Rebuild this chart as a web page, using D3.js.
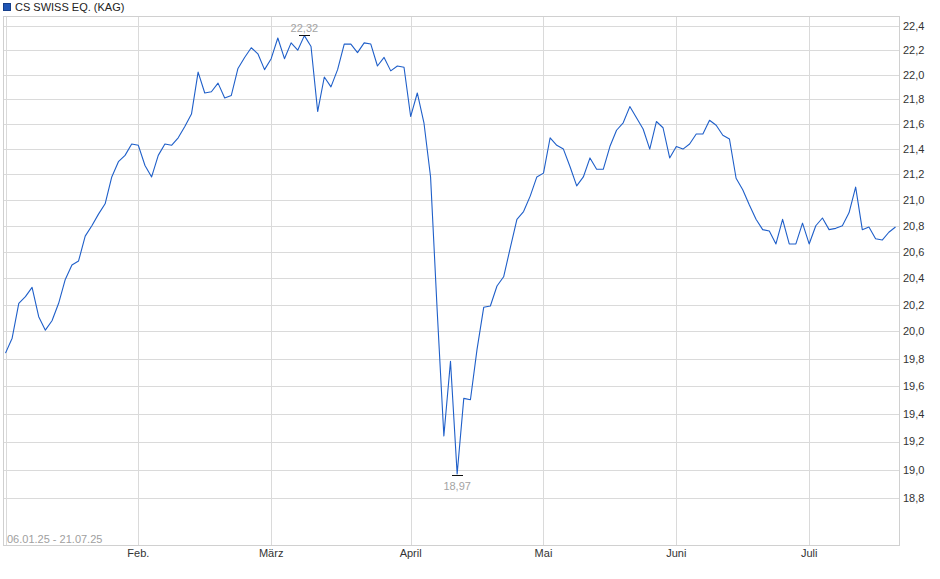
<!DOCTYPE html>
<html>
<head>
<meta charset="utf-8">
<script src="https://cdn.jsdelivr.net/npm/d3@7"></script>
<style>
  body { margin: 0; background: #fff; }
  svg { display: block; font-family: "Liberation Sans", Arial, sans-serif; }
</style>
</head>
<body>
<svg id="chart" width="940" height="579"></svg>
<script>
// fund prices, one per trading day, 06.01.25 - 21.07.25
const seriesName = "CS SWISS EQ. (KAG)";
const dateRange = "06.01.25 - 21.07.25";
const prices = [
  19.84, 19.95, 20.21, 20.26, 20.33, 20.11, 20.01, 20.08, 20.21, 20.39,
  20.50, 20.53, 20.72, 20.80, 20.89, 20.97, 21.18, 21.30, 21.35, 21.44,
  21.43, 21.27, 21.18, 21.35, 21.44, 21.43, 21.49, 21.58, 21.68, 22.02,
  21.85, 21.86, 21.93, 21.81, 21.83, 22.05, 22.14, 22.22, 22.17, 22.04,
  22.13, 22.30, 22.13, 22.26, 22.20, 22.32, 22.23, 21.70, 21.98, 21.90,
  22.04, 22.25, 22.25, 22.18, 22.26, 22.25, 22.07, 22.14, 22.03, 22.07,
  22.06, 21.66, 21.85, 21.61, 21.18, 20.15, 19.24, 19.78, 18.97, 19.51,
  19.50, 19.87, 20.18, 20.19, 20.34, 20.41, 20.63, 20.85, 20.91, 21.03,
  21.18, 21.21, 21.49, 21.43, 21.40, 21.26, 21.11, 21.18, 21.33, 21.24,
  21.24, 21.42, 21.55, 21.61, 21.74, 21.65, 21.56, 21.40, 21.62, 21.57,
  21.33, 21.42, 21.40, 21.44, 21.52, 21.52, 21.63, 21.59, 21.51, 21.48,
  21.17, 21.08, 20.96, 20.85, 20.77, 20.76, 20.66, 20.85, 20.66, 20.66,
  20.82, 20.66, 20.80, 20.86, 20.77, 20.78, 20.80, 20.90, 21.10, 20.77,
  20.79, 20.70, 20.69, 20.75, 20.79
];
// first trading day of each month (index into prices)
const monthIdx = [20, 40, 61, 81, 101, 121];
const monthLabels = ["Feb.", "März", "April", "Mai", "Juni", "Juli"];
const yTicks = [18.8, 19.0, 19.2, 19.4, 19.6, 19.8, 20.0, 20.2, 20.4, 20.6, 20.8, 21.0, 21.2, 21.4, 21.6, 21.8, 22.0, 22.2, 22.4];

const de = d3.formatLocale({decimal: ",", thousands: ".", grouping: [3], currency: ["", " €"]});
const fmt1 = de.format(".1f"), fmt2 = de.format(".2f");

const plotL = 3, plotR = 898.5, plotT = 16, plotB = 545;
const svg = d3.select("#chart");

const x = d3.scaleLinear().domain([0, prices.length - 1]).range([5.5, 895.5]);
const y = d3.scaleLog().domain([18.477, 22.483]).range([plotB, plotT]);

// grid
const grid = svg.append("g").attr("shape-rendering", "crispEdges");
grid.selectAll(".hg").data(yTicks).enter().append("line")
  .attr("x1", plotL).attr("x2", plotR)
  .attr("y1", d => Math.round(y(d)) + 0.5).attr("y2", d => Math.round(y(d)) + 0.5)
  .attr("stroke", "#dadada");
grid.selectAll(".vg").data([0].concat(monthIdx)).enter().append("line")
  .attr("x1", d => Math.round(x(d)) + 0.5).attr("x2", d => Math.round(x(d)) + 0.5)
  .attr("y1", plotT).attr("y2", plotB)
  .attr("stroke", "#dadada");
grid.append("rect")
  .attr("x", plotL + 0.5).attr("y", plotT + 0.5)
  .attr("width", plotR - plotL).attr("height", plotB - plotT)
  .attr("fill", "none").attr("stroke", "#d0d0d0");

// y axis labels
svg.append("g").selectAll("text").data(yTicks).enter().append("text")
  .attr("x", 903).attr("y", d => y(d)).attr("dy", "0.36em")
  .attr("font-size", 11).attr("fill", "#333")
  .text(d => fmt1(d));

// x axis labels
svg.append("g").selectAll("text").data(monthIdx).enter().append("text")
  .attr("x", d => x(d)).attr("y", 557)
  .attr("text-anchor", "middle").attr("font-size", 11).attr("fill", "#333")
  .text((d, i) => monthLabels[i]);

svg.append("text").attr("x", 7).attr("y", 543)
  .attr("font-size", 11).attr("fill", "#a0a0a0").text(dateRange);

// price line
const line = d3.line().x((d, i) => x(i)).y(d => y(d));
svg.append("path").datum(prices)
  .attr("d", line).attr("fill", "none")
  .attr("stroke", "#1f5fc9").attr("stroke-width", 1.1)
  .attr("stroke-linejoin", "round");

// high / low markers
const iMax = d3.maxIndex(prices), iMin = d3.minIndex(prices);
const marks = [
  {i: iMax, off: -1, ty: -4},
  {i: iMin, off: 1, ty: 14}
];
marks.forEach(m => {
  const yy = Math.round(y(prices[m.i]) + m.off) + 0.5;
  svg.append("line")
    .attr("x1", x(m.i) - 5.5).attr("x2", x(m.i) + 5.5)
    .attr("y1", yy).attr("y2", yy)
    .attr("stroke", "#111").attr("shape-rendering", "crispEdges");
  svg.append("text")
    .attr("x", x(m.i)).attr("y", yy + m.ty)
    .attr("text-anchor", "middle").attr("font-size", 11).attr("fill", "#a3a3a3")
    .text(fmt2(prices[m.i]));
});

// legend
svg.append("rect").attr("x", 3.5).attr("y", 3.5).attr("width", 7).attr("height", 7)
  .attr("fill", "#1f55b5").attr("stroke", "#163f8a");
svg.append("text").attr("x", 15).attr("y", 11)
  .attr("font-size", 11).attr("fill", "#222").text(seriesName);
</script>
</body>
</html>
